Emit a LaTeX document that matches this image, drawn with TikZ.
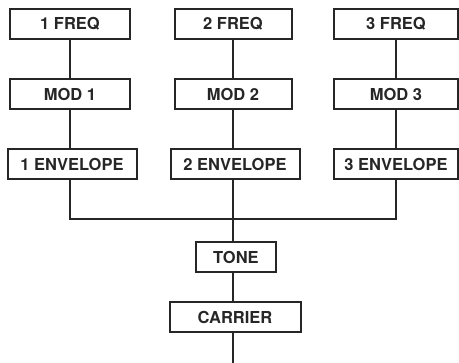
\documentclass[tikz,border=0pt]{standalone}
\usepackage{fontspec}
\setmainfont{TeX Gyre Heros}
\begin{document}
\begin{tikzpicture}[x=1pt,y=-1pt,
  box/.style={draw=black!85, line width=2pt, minimum height=30pt, inner sep=0pt,
    text=black!85, font=\fontsize{16.5}{19}\selectfont\bfseries},
  wire/.style={draw=black!85, line width=2pt}]
\useasboundingbox (0,0) rectangle (459,363);
% column 1
\node[box, minimum width=120pt] (f1) at (70,24) {1 FREQ};
\node[box, minimum width=120pt] (m1) at (70,94.5) {MOD 1};
\node[box, minimum width=129pt] (e1) at (72,164.5) {1 ENVELOPE};
% column 2
\node[box, minimum width=117pt] (f2) at (233,24) {2 FREQ};
\node[box, minimum width=117pt] (m2) at (233,94.5) {MOD 2};
\node[box, minimum width=129pt] (e2) at (235,164.5) {2 ENVELOPE};
% column 3
\node[box, minimum width=124pt] (f3) at (396,24) {3 FREQ};
\node[box, minimum width=124pt] (m3) at (396,94.5) {MOD 3};
\node[box, minimum width=124pt] (e3) at (396,164.5) {3 ENVELOPE};
% bottom
\node[box, minimum width=80pt] (tone) at (236,257) {TONE};
\node[box, minimum width=131pt] (car) at (235,317) {CARRIER};
\coordinate (j) at (233,219);
\coordinate (out) at (233,363);
\coordinate (c1) at (70,0);
\coordinate (c3) at (396,0);
% wires
\draw[wire] (f1.south -| c1) -- (m1.north -| c1);
\draw[wire] (m1.south -| c1) -- (e1.north -| c1);
\draw[wire] (f2.south -| j) -- (m2.north -| j);
\draw[wire] (m2.south -| j) -- (e2.north -| j);
\draw[wire] (f3.south) -- (m3.north);
\draw[wire] (m3.south) -- (e3.north);
\draw[wire] (e1.south -| c1) |- (j) -| (e3.south);
\draw[wire] (e2.south -| j) -- (tone.north -| j);
\draw[wire] (tone.south -| j) -- (car.north -| j);
\draw[wire] (car.south -| j) -- (out);
\end{tikzpicture}
\end{document}
